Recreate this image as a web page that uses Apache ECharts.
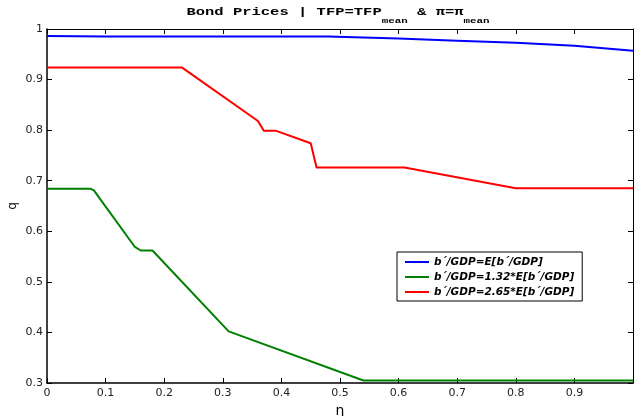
<!DOCTYPE html>
<html><head><meta charset="utf-8">
<script src="https://cdn.jsdelivr.net/npm/echarts@6/dist/echarts.min.js"></script>
<style>html,body{margin:0;padding:0;background:#fff}#c{width:634px;height:416px}</style>
</head><body><div id="c"></div>
<script>
var etaBlue = [0, 0.1, 0.48, 0.6, 0.7, 0.8, 0.85, 0.9, 1.0];
var qBlue   = [0.986, 0.985, 0.985, 0.981, 0.977, 0.973, 0.970, 0.967, 0.957];
var etaGreen = [0, 0.075, 0.08, 0.15, 0.16, 0.18, 0.31, 0.54, 1.0];
var qGreen   = [0.684, 0.684, 0.681, 0.569, 0.562, 0.562, 0.402, 0.305, 0.305];
var etaRed = [0, 0.23, 0.36, 0.37, 0.39, 0.45, 0.46, 0.61, 0.8, 1.0];
var qRed   = [0.924, 0.924, 0.818, 0.799, 0.799, 0.774, 0.726, 0.726, 0.685, 0.685];
var seriesNames = ["b\u00B4/GDP=E[b\u00B4/GDP]", "b\u00B4/GDP=1.32*E[b\u00B4/GDP]", "b\u00B4/GDP=2.65*E[b\u00B4/GDP]"];
var xTicks = [0, 0.1, 0.2, 0.3, 0.4, 0.5, 0.6, 0.7, 0.8, 0.9];
var yTicks = [0.3, 0.4, 0.5, 0.6, 0.7, 0.8, 0.9, 1];

function pairs(xs, ys){ return xs.map(function(x,i){ return [x, ys[i]]; }); }
var chart = echarts.init(document.getElementById('c'), null, {renderer:'canvas'});
var lblFont = {fontFamily:'DejaVu Sans', fontSize:11, color:'#222'};
var axisLineStyle = {color:'#000', width:1.5};
function fmtX(v){ return xTicks.some(function(t){return Math.abs(t-v)<1e-9;}) ? String(+v.toFixed(1)) : ''; }
function fmtY(v){ return yTicks.some(function(t){return Math.abs(t-v)<1e-9;}) ? String(+v.toFixed(1)) : ''; }
var option = {
  animation:false,
  backgroundColor:'#fff',
  graphic:[{
    type:'text', x:338, y:7, scaleX:1.55, scaleY:1,
    style:{
      text:'{a|Bond Prices | TFP=TFP}{s|mean}{a| & \u03C0=\u03C0}{s|mean}',
      align:'center', verticalAlign:'top',
      rich:{
        a:{fontFamily:'Liberation Mono', fontWeight:'bold', fontSize:10, fill:'#000', lineHeight:12, verticalAlign:'top'},
        s:{fontFamily:'Liberation Mono', fontWeight:'bold', fontSize:7, fill:'#000', lineHeight:10, padding:[11,0,0,0], verticalAlign:'top'}
      }
    }
  }],
  legend:{
    orient:'vertical', left:397, top:252,
    backgroundColor:'#fff', borderColor:'#000', borderWidth:1,
    padding:[4,8,3,8], itemGap:3,
    itemWidth:24, itemHeight:2, icon:'rect',
    textStyle:{fontFamily:'DejaVu Sans', fontSize:10.5, lineHeight:12, fontWeight:'bold', fontStyle:'italic', color:'#000'},
    data:seriesNames
  },
  grid:{left:47, right:1, top:29, bottom:33, containLabel:false, outerBoundsMode:'none'},
  xAxis:[{
    type:'value', min:0, max:1, interval:0.1,
    name:'\u03B7', nameLocation:'middle', nameGap:16,
    nameTextStyle:{fontFamily:'DejaVu Sans', fontSize:14, color:'#000'},
    axisLine:{show:true, onZero:false, lineStyle:axisLineStyle},
    axisTick:{show:true, inside:true, length:5, lineStyle:{color:'#000'}},
    axisLabel:Object.assign({formatter:fmtX, margin:5}, lblFont),
    splitLine:{show:false}
  },{
    type:'value', min:0, max:1, interval:0.1, position:'top',
    axisLine:{show:true, onZero:false, lineStyle:{color:'#000', width:1}},
    axisTick:{show:true, inside:true, length:5, lineStyle:{color:'#000'}},
    axisLabel:{show:false}, splitLine:{show:false}
  }],
  yAxis:[{
    type:'value', min:0.3, max:1, interval:0.1,
    name:'q', nameLocation:'middle', nameGap:28, nameRotate:90, nameMoveOverlap:false,
    nameTextStyle:{fontFamily:'DejaVu Sans', fontSize:12, color:'#000'},
    axisLine:{show:true, onZero:false, lineStyle:axisLineStyle},
    axisTick:{show:true, inside:true, length:5, lineStyle:{color:'#000'}},
    axisLabel:Object.assign({formatter:fmtY, margin:4}, lblFont),
    splitLine:{show:false}
  },{
    type:'value', min:0.3, max:1, interval:0.1, position:'right',
    axisLine:{show:true, onZero:false, lineStyle:{color:'#000', width:1}},
    axisTick:{show:true, inside:true, length:5, lineStyle:{color:'#000'}},
    axisLabel:{show:false}, splitLine:{show:false}
  }],
  series:[
    {name:seriesNames[0], type:'line', data:pairs(etaBlue,qBlue), showSymbol:false, symbol:'none', color:'#0000ff', lineStyle:{width:2, color:'#0000ff'}},
    {name:seriesNames[1], type:'line', data:pairs(etaGreen,qGreen), showSymbol:false, symbol:'none', color:'#008000', lineStyle:{width:2, color:'#008000'}},
    {name:seriesNames[2], type:'line', data:pairs(etaRed,qRed), showSymbol:false, symbol:'none', color:'#ff0000', lineStyle:{width:2, color:'#ff0000'}}
  ]
};
chart.setOption(option);
</script></body></html>
